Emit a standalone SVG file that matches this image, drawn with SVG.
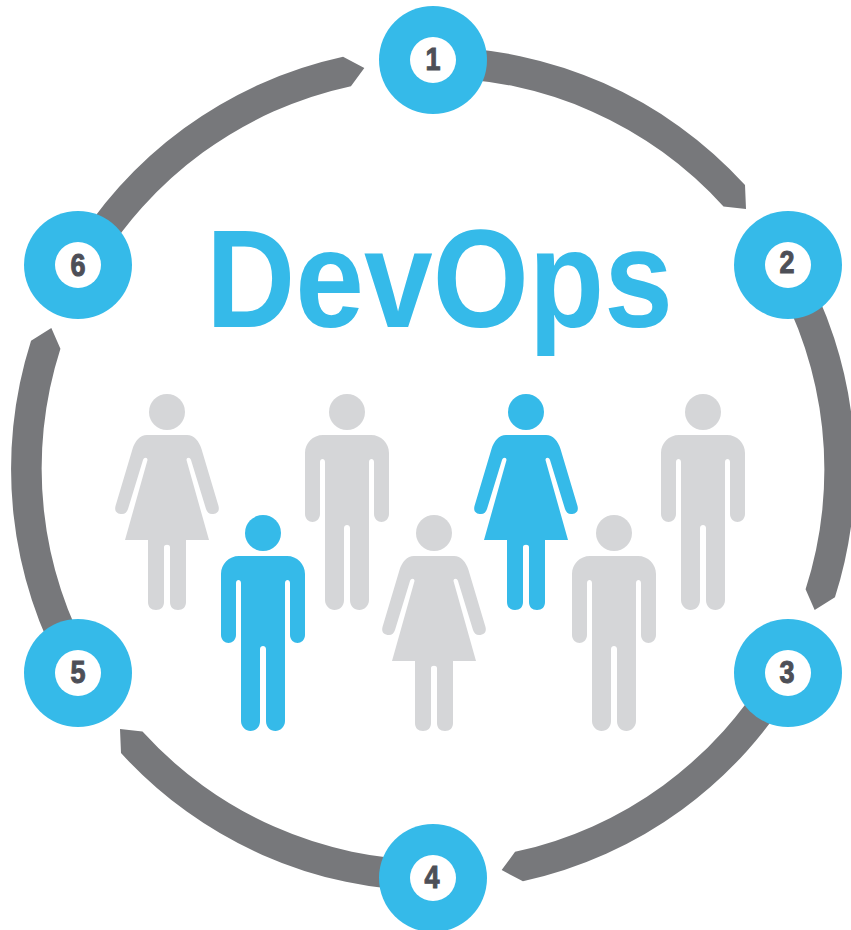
<svg xmlns="http://www.w3.org/2000/svg" width="851" height="930" viewBox="0 0 851 930">
<style>
.seg{fill:#77787b}
.disc{fill:#35bae9}
.hole{fill:#fff}
.num{font-family:"Liberation Sans",Arial,sans-serif;font-weight:700;font-size:31px;fill:#4d4f57;stroke:#4d4f57;stroke-width:1px;text-anchor:middle}
.title{font-family:"Liberation Sans",Arial,sans-serif;font-weight:700;font-size:139px;fill:#35bae9}
.g{fill:#d5d6d8}
.b{fill:#35bae9}
</style>
<defs>
<path id="seg" class="seg" d="M433 47A422 422 0 0 1 745 185L746 209L723.500 206.500A391 391 0 0 0 433 78Z"/>
<g id="woman">
<circle r="18"/>
<path d="M-20 23H20C27 23 32 29 34.500 37L51.500 94C53 100 49 102 45 102C42 102 40 100 39 97L24 48C23 45 19.500 45 19.500 48L42 128H19V190C19 195 16 198 11 198C6 198 3 195 3 190V135C3 132 -3 132 -3 135V190C-3 195 -6 198 -11 198C-16 198 -19 195 -19 190V128H-42L-19.500 48C-19.500 45 -23 45 -24 48L-39 97C-40 100 -42 102 -45 102C-49 102 -53 100 -51.500 94L-34.500 37C-32 29 -27 23 -20 23Z"/>
</g>
<g id="man">
<circle r="18"/>
<path d="M-24 23H24C34 23 42 31 42 41V102C42 107 38 110 34.500 110C31 110 27 107 27 102V50C27 46 22 46 22 50V188C22 194 17 198 12.500 198C7 198 3 194 3 188V116C3 112 -3 112 -3 116V188C-3 194 -7 198 -12.500 198C-17 198 -22 194 -22 188V50C-22 46 -27 46 -27 50V102C-27 107 -31 110 -34.500 110C-38 110 -42 107 -42 102V41C-42 31 -34 23 -24 23Z"/>
</g>
</defs>
<g id="connectors">
<use href="#seg"/>
<use href="#seg" transform="rotate(60 433 469)"/>
<use href="#seg" transform="rotate(120 433 469)"/>
<use href="#seg" transform="rotate(180 433 469)"/>
<use href="#seg" transform="rotate(240 433 469)"/>
<use href="#seg" transform="rotate(300 433 469)"/>
</g>
<g id="node-1"><circle class="disc" cx="433" cy="60" r="54"/><circle class="hole" cx="433" cy="60" r="23"/><text class="num" x="433" y="70" textLength="15" lengthAdjust="spacingAndGlyphs">1</text></g>
<g id="node-2"><circle class="disc" cx="788" cy="265" r="54"/><circle class="hole" cx="788" cy="265" r="23"/><text class="num" x="787" y="273" textLength="15" lengthAdjust="spacingAndGlyphs">2</text></g>
<g id="node-3"><circle class="disc" cx="788" cy="673" r="54"/><circle class="hole" cx="788" cy="673" r="23"/><text class="num" x="787" y="683" textLength="15" lengthAdjust="spacingAndGlyphs">3</text></g>
<g id="node-4"><circle class="disc" cx="433" cy="878" r="54"/><circle class="hole" cx="433" cy="878" r="23"/><text class="num" x="432" y="888" textLength="15" lengthAdjust="spacingAndGlyphs">4</text></g>
<g id="node-5"><circle class="disc" cx="78" cy="673" r="54"/><circle class="hole" cx="78" cy="673" r="23"/><text class="num" x="78" y="683" textLength="15" lengthAdjust="spacingAndGlyphs">5</text></g>
<g id="node-6"><circle class="disc" cx="78" cy="265" r="54"/><circle class="hole" cx="78" cy="265" r="23"/><text class="num" x="78" y="276" textLength="15" lengthAdjust="spacingAndGlyphs">6</text></g>
<text id="title" class="title" x="206" y="326.500" textLength="467" lengthAdjust="spacingAndGlyphs">DevOps</text>
<g id="people">
<use id="person-1" href="#woman" class="g" x="167" y="412"/>
<use id="person-2" href="#man" class="g" x="347" y="412"/>
<use id="person-3" href="#woman" class="b" x="526" y="412"/>
<use id="person-4" href="#man" class="g" x="703" y="412"/>
<use id="person-5" href="#man" class="b" x="263" y="533"/>
<use id="person-6" href="#woman" class="g" x="434" y="533"/>
<use id="person-7" href="#man" class="g" x="614" y="533"/>
</g>
</svg>
